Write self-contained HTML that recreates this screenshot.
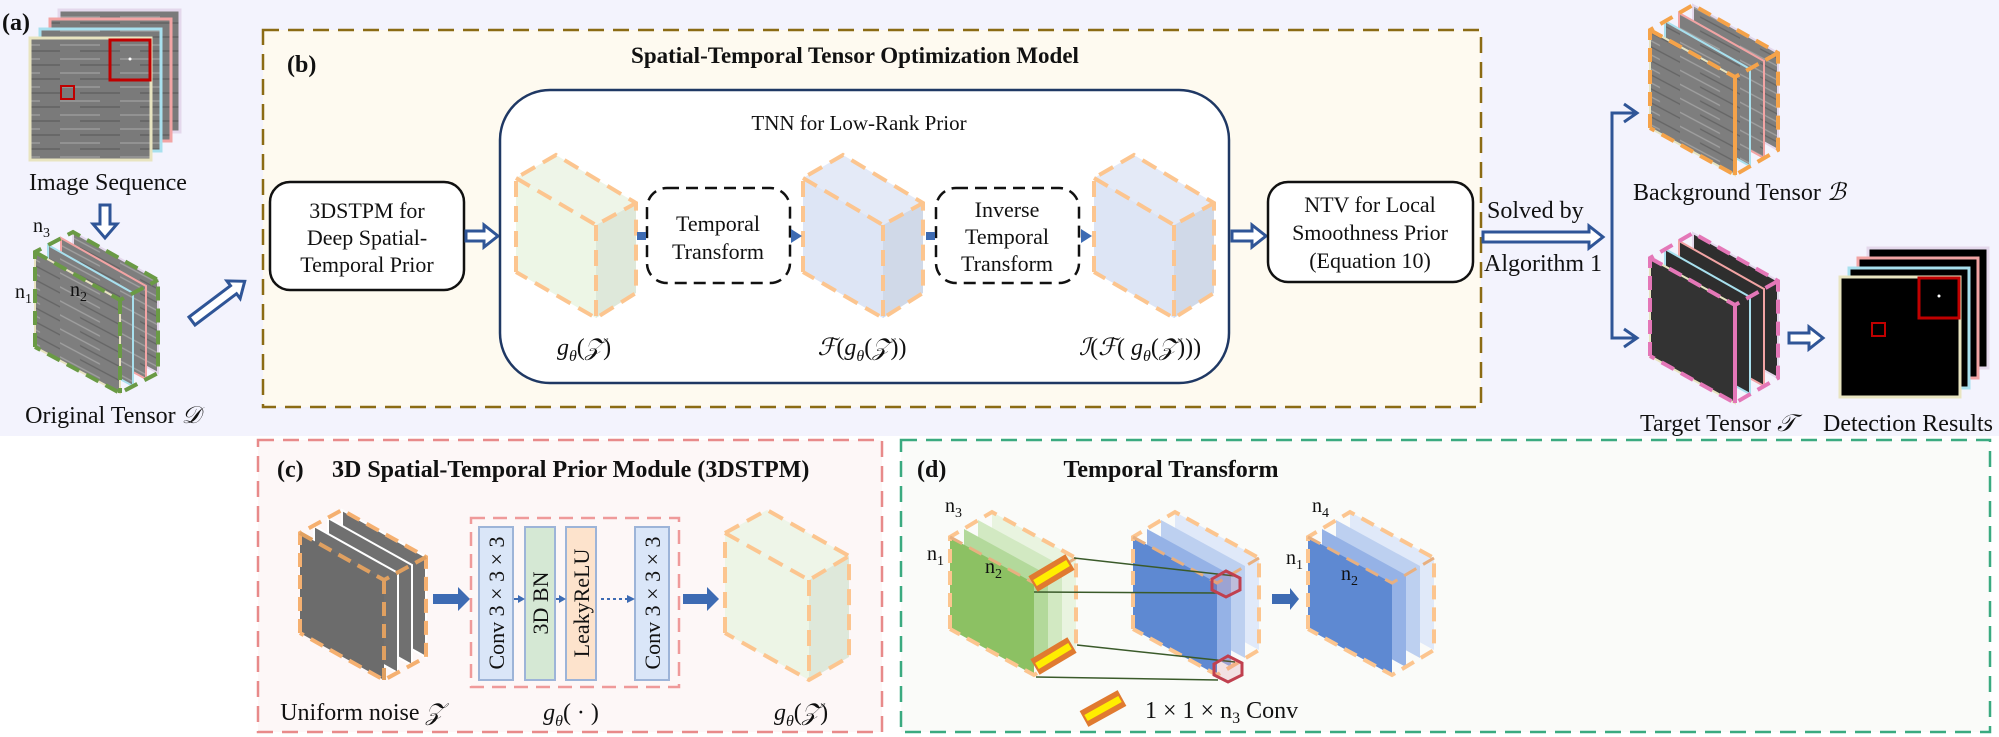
<!DOCTYPE html>
<html><head><meta charset="utf-8"><style>
html,body{margin:0;padding:0;background:#fff;}
svg{display:block;font-family:"Liberation Serif",serif;}
</style></head><body>
<svg width="1999" height="737" viewBox="0 0 1999 737" xmlns="http://www.w3.org/2000/svg">
<defs>
<pattern id="st" width="60" height="14" patternUnits="userSpaceOnUse" patternTransform="skewY(28)">
<rect width="60" height="14" fill="#7e7e7e"/>
<line x1="0" y1="3" x2="40" y2="3" stroke="#a0a0a0" stroke-width="1.5"/>
<line x1="20" y1="9" x2="60" y2="9" stroke="#656565" stroke-width="1.5"/>
</pattern>
<pattern id="st2" width="60" height="14" patternUnits="userSpaceOnUse">
<rect width="60" height="14" fill="#7a7a7a"/>
<line x1="0" y1="3" x2="40" y2="3" stroke="#9a9a9a" stroke-width="1.5"/>
<line x1="20" y1="9" x2="60" y2="9" stroke="#626262" stroke-width="1.5"/>
</pattern>
</defs>
<!-- backgrounds -->
<rect x="0" y="0" width="1999" height="436" fill="#f3f3fd"/>
<rect x="0" y="436" width="1999" height="301" fill="#ffffff"/>

<!-- (a) image stack -->
<text x="2" y="30" font-size="24" font-weight="bold" fill="#111">(a)</text>
<rect x="59" y="10" width="121" height="122" fill="url(#st2)" stroke="#e4d8ec" stroke-width="3"/>
<rect x="50" y="19" width="121" height="122" fill="url(#st2)" stroke="#f2a4a4" stroke-width="3"/>
<rect x="40" y="29" width="121" height="122" fill="url(#st2)" stroke="#a8e0ee" stroke-width="3"/>
<rect x="30" y="38" width="121" height="122" fill="url(#st2)" stroke="#e8e4c0" stroke-width="3"/>
<rect x="110" y="40" width="40" height="40" fill="none" stroke="#c00000" stroke-width="3"/>
<rect x="61" y="86" width="13" height="13" fill="none" stroke="#c00000" stroke-width="2"/>
<circle cx="130" cy="59" r="1.5" fill="#fff"/>
<text x="108" y="190" font-size="24" text-anchor="middle" fill="#111">Image Sequence</text>
<polygon points="100,205 110,205 110,224 117,224 105,238 93,224 100,224" fill="#fff" stroke="#2f5597" stroke-width="3"/>

<!-- original tensor -->
<g>
<polygon points="73,232 158,280 158,373 73,327" fill="url(#st)" stroke="#e4d8ec" stroke-width="2"/>
<polygon points="61,238 146,286 146,379 61,333" fill="url(#st)" stroke="#f2a4a4" stroke-width="2"/>
<polygon points="48,245 133,293 133,386 48,340" fill="url(#st)" stroke="#a8e0ee" stroke-width="2"/>
<polygon points="35,252 120,300 120,393 35,347" fill="url(#st)" stroke="#e8e4c0" stroke-width="2"/>
<polyline points="35,347 35,252 73,232 158,280 158,373 120,393 35,347" fill="none" stroke="#6a9a45" stroke-width="4" stroke-dasharray="14 8"/>
<polyline points="35,252 120,300 158,280 M120,300" fill="none" stroke="#6a9a45" stroke-width="4" stroke-dasharray="14 8"/>
<line x1="120" y1="300" x2="120" y2="393" stroke="#6a9a45" stroke-width="4" stroke-dasharray="14 8"/>
</g>
<text x="33" y="232" font-size="20" fill="#111">n<tspan font-size="14" dy="5">3</tspan></text>
<text x="15" y="298" font-size="20" fill="#111">n<tspan font-size="14" dy="5">1</tspan></text>
<text x="70" y="296" font-size="20" fill="#111">n<tspan font-size="14" dy="5">2</tspan></text>
<text x="113" y="423" font-size="24" text-anchor="middle" fill="#111">Original Tensor <tspan font-style="italic">𝒟</tspan></text>
<g transform="translate(192,321) rotate(-37)">
<polygon points="0,-5 52,-5 52,-11 66,0 52,11 52,5 0,5" fill="#fff" stroke="#2f5597" stroke-width="3"/>
</g>

<!-- (b) box -->
<rect x="263" y="30" width="1218" height="377" fill="#fefaf0" stroke="#8b6b14" stroke-width="2.5" stroke-dasharray="16 9"/>
<text x="287" y="72" font-size="24" font-weight="bold" fill="#111">(b)</text>
<text x="855" y="63" font-size="23" font-weight="bold" text-anchor="middle" fill="#111">Spatial-Temporal Tensor Optimization Model</text>

<rect x="270" y="182" width="194" height="108" rx="20" fill="#fff" stroke="#111" stroke-width="2.5"/>
<text x="367" y="218" font-size="22" text-anchor="middle" fill="#111">3DSTPM for</text>
<text x="367" y="245" font-size="22" text-anchor="middle" fill="#111">Deep Spatial-</text>
<text x="367" y="272" font-size="22" text-anchor="middle" fill="#111">Temporal Prior</text>
<polygon points="466,231 484,231 484,225 498,236 484,247 484,241 466,241" fill="#fff" stroke="#2f5597" stroke-width="3"/>

<rect x="500" y="90" width="729" height="293" rx="50" fill="#fff" stroke="#1f3864" stroke-width="2.5"/>
<text x="859" y="130" font-size="21" text-anchor="middle" fill="#111">TNN for Low-Rank Prior</text>

<!-- cube 1 green -->
<g id="c1">
<polygon points="516,178 556,155 636,203 596,225" fill="#eef5e8"/>
<polygon points="516,178 596,225 596,318 516,272" fill="#edf6e6"/>
<polygon points="596,225 636,203 636,293 596,318" fill="#dee8da"/>
<polyline points="516,272 516,178 556,155 636,203 636,293 596,318 516,272" fill="none" stroke="#fcc58f" stroke-width="4" stroke-dasharray="16 9"/>
<polyline points="516,178 596,225 636,203" fill="none" stroke="#fcc58f" stroke-width="4" stroke-dasharray="16 9"/>
<line x1="596" y1="225" x2="596" y2="318" stroke="#fcc58f" stroke-width="4" stroke-dasharray="16 9"/>
</g>
<g transform="translate(287,0)">
<polygon points="516,178 556,155 636,203 596,225" fill="#e4eaf7"/>
<polygon points="516,178 596,225 596,318 516,272" fill="#dde5f5"/>
<polygon points="596,225 636,203 636,293 596,318" fill="#d0d9e8"/>
<polyline points="516,272 516,178 556,155 636,203 636,293 596,318 516,272" fill="none" stroke="#fcc58f" stroke-width="4" stroke-dasharray="16 9"/>
<polyline points="516,178 596,225 636,203" fill="none" stroke="#fcc58f" stroke-width="4" stroke-dasharray="16 9"/>
<line x1="596" y1="225" x2="596" y2="318" stroke="#fcc58f" stroke-width="4" stroke-dasharray="16 9"/>
</g>
<g transform="translate(578,0)">
<polygon points="516,178 556,155 636,203 596,225" fill="#e4eaf7"/>
<polygon points="516,178 596,225 596,318 516,272" fill="#dde5f5"/>
<polygon points="596,225 636,203 636,293 596,318" fill="#d0d9e8"/>
<polyline points="516,272 516,178 556,155 636,203 636,293 596,318 516,272" fill="none" stroke="#fcc58f" stroke-width="4" stroke-dasharray="16 9"/>
<polyline points="516,178 596,225 636,203" fill="none" stroke="#fcc58f" stroke-width="4" stroke-dasharray="16 9"/>
<line x1="596" y1="225" x2="596" y2="318" stroke="#fcc58f" stroke-width="4" stroke-dasharray="16 9"/>
</g>

<rect x="647" y="188" width="143" height="95" rx="20" fill="#fff" stroke="#111" stroke-width="2.5" stroke-dasharray="12 7"/>
<text x="718" y="231" font-size="22" text-anchor="middle" fill="#111">Temporal</text>
<text x="718" y="259" font-size="22" text-anchor="middle" fill="#111">Transform</text>
<rect x="936" y="188" width="143" height="95" rx="20" fill="#fff" stroke="#111" stroke-width="2.5" stroke-dasharray="12 7"/>
<text x="1007" y="217" font-size="22" text-anchor="middle" fill="#111">Inverse</text>
<text x="1007" y="244" font-size="22" text-anchor="middle" fill="#111">Temporal</text>
<text x="1007" y="271" font-size="22" text-anchor="middle" fill="#111">Transform</text>
<rect x="637" y="232" width="9" height="8" fill="#3d6bb3"/>
<polygon points="791,229 802,236 791,243" fill="#3d6bb3"/>
<rect x="926" y="232" width="9" height="8" fill="#3d6bb3"/>
<polygon points="1081,229 1092,236 1081,243" fill="#3d6bb3"/>

<text x="584" y="355" font-size="24" text-anchor="middle" fill="#111"><tspan font-style="italic">g</tspan><tspan font-size="16" dy="6" font-style="italic">θ</tspan><tspan dy="-6">(</tspan><tspan font-style="italic">𝒵</tspan>)</text>
<text x="862" y="355" font-size="24" text-anchor="middle" fill="#111"><tspan font-style="italic">ℱ</tspan>(<tspan font-style="italic">g</tspan><tspan font-size="16" dy="6" font-style="italic">θ</tspan><tspan dy="-6">(</tspan><tspan font-style="italic">𝒵</tspan>))</text>
<text x="1140" y="355" font-size="24" text-anchor="middle" fill="#111"><tspan font-style="italic">ℐ</tspan>(<tspan font-style="italic">ℱ</tspan>( <tspan font-style="italic">g</tspan><tspan font-size="16" dy="6" font-style="italic">θ</tspan><tspan dy="-6">(</tspan><tspan font-style="italic">𝒵</tspan>)))</text>

<polygon points="1232,231 1252,231 1252,225 1266,236 1252,247 1252,241 1232,241" fill="#fff" stroke="#2f5597" stroke-width="3"/>
<rect x="1268" y="182" width="205" height="100" rx="20" fill="#fff" stroke="#111" stroke-width="2.5"/>
<text x="1370" y="212" font-size="22" text-anchor="middle" fill="#111">NTV for Local</text>
<text x="1370" y="240" font-size="22" text-anchor="middle" fill="#111">Smoothness Prior</text>
<text x="1370" y="268" font-size="22" text-anchor="middle" fill="#111">(Equation 10)</text>

<!-- right side -->
<text x="1487" y="218" font-size="24" fill="#111">Solved by</text>
<text x="1484" y="271" font-size="24" fill="#111">Algorithm 1</text>
<polygon points="1483,232 1589,232 1589,226 1603,237 1589,248 1589,242 1483,242" fill="#fff" stroke="#2f5597" stroke-width="3"/>
<polyline points="1637,113 1612,113 1612,338 1637,338" fill="none" stroke="#2f5597" stroke-width="3"/>
<polyline points="1624,104 1637,113 1624,122" fill="none" stroke="#2f5597" stroke-width="3"/>
<polyline points="1624,329 1637,338 1624,347" fill="none" stroke="#2f5597" stroke-width="3"/>

<!-- background tensor -->
<g>
<polygon points="1693,5 1778,53 1778,150 1693,103" fill="url(#st)" stroke="#e4d8ec" stroke-width="2"/>
<polygon points="1679,13 1764,61 1764,158 1679,111" fill="url(#st)" stroke="#f2a4a4" stroke-width="2"/>
<polygon points="1665,21 1750,69 1750,166 1665,119" fill="url(#st)" stroke="#a8e0ee" stroke-width="2"/>
<polygon points="1650,30 1735,77 1735,175 1650,128" fill="url(#st)" stroke="#e8e4c0" stroke-width="2"/>
<polyline points="1650,128 1650,30 1693,5 1778,53 1778,150 1735,175 1650,128" fill="none" stroke="#f5a34a" stroke-width="4" stroke-dasharray="14 8"/>
<polyline points="1650,30 1735,77 1778,53" fill="none" stroke="#f5a34a" stroke-width="4" stroke-dasharray="14 8"/>
<line x1="1735" y1="77" x2="1735" y2="175" stroke="#f5a34a" stroke-width="4"/>
</g>
<text x="1633" y="200" font-size="24" fill="#111">Background Tensor <tspan font-style="italic">ℬ</tspan></text>
<!-- target tensor -->
<g transform="translate(0,228)">
<polygon points="1693,5 1778,53 1778,150 1693,103" fill="#2e2e2e" stroke="#e4d8ec" stroke-width="2"/>
<polygon points="1679,13 1764,61 1764,158 1679,111" fill="#2e2e2e" stroke="#f2a4a4" stroke-width="2"/>
<polygon points="1665,21 1750,69 1750,166 1665,119" fill="#2e2e2e" stroke="#a8e0ee" stroke-width="2"/>
<polygon points="1650,30 1735,77 1735,175 1650,128" fill="#333" stroke="#e8e4c0" stroke-width="2"/>
<polyline points="1650,128 1650,30 1693,5 1778,53 1778,150 1735,175 1650,128" fill="none" stroke="#e477b8" stroke-width="4" stroke-dasharray="14 8"/>
<polyline points="1650,30 1735,77 1778,53" fill="none" stroke="#e477b8" stroke-width="4" stroke-dasharray="14 8"/>
<line x1="1735" y1="77" x2="1735" y2="175" stroke="#e477b8" stroke-width="4"/>
</g>
<text x="1640" y="431" font-size="24" fill="#111">Target Tensor <tspan font-style="italic">𝒯</tspan></text>
<polygon points="1789,333 1809,333 1809,327 1823,338 1809,349 1809,343 1789,343" fill="#fff" stroke="#2f5597" stroke-width="3"/>
<!-- detection -->
<rect x="1868" y="248" width="120" height="120" fill="#000" stroke="#e4d8ec" stroke-width="3"/>
<rect x="1858" y="258" width="120" height="120" fill="#000" stroke="#f2a4a4" stroke-width="3"/>
<rect x="1849" y="268" width="120" height="120" fill="#000" stroke="#a8e0ee" stroke-width="3"/>
<rect x="1840" y="277" width="120" height="120" fill="#000" stroke="#e8e4c0" stroke-width="3"/>
<rect x="1919" y="278" width="40" height="40" fill="none" stroke="#c00000" stroke-width="3"/>
<rect x="1872" y="323" width="13" height="13" fill="none" stroke="#c00000" stroke-width="2"/>
<circle cx="1939" cy="296" r="1.5" fill="#fff"/>
<text x="1823" y="431" font-size="24" fill="#111">Detection Results</text>

<!-- (c) -->
<rect x="258" y="440" width="624" height="292" fill="#fdf7f7" stroke="#e88a8a" stroke-width="2.5" stroke-dasharray="16 9"/>
<text x="277" y="477" font-size="24" font-weight="bold" fill="#111">(c)</text>
<text x="332" y="477" font-size="24" font-weight="bold" fill="#111">3D Spatial-Temporal Prior Module  (3DSTPM)</text>
<g>
<polygon points="342,510 426,557 426,657 342,610" fill="#707070" stroke="#fff" stroke-width="2"/>
<polygon points="328,518 412,565 412,665 328,618" fill="#707070" stroke="#fff" stroke-width="2"/>
<polygon points="314,526 398,573 398,673 314,626" fill="#707070" stroke="#fff" stroke-width="2"/>
<polygon points="300,533 384,580 384,680 300,633" fill="#6c6c6c"/>
<polyline points="300,633 300,533 342,510 426,557 426,657 384,680 300,633" fill="none" stroke="#f5b070" stroke-width="4" stroke-dasharray="14 8"/>
<polyline points="300,533 384,580 426,557" fill="none" stroke="#e0a060" stroke-width="4" stroke-dasharray="14 8"/>
<line x1="384" y1="580" x2="384" y2="680" stroke="#e0a060" stroke-width="4" stroke-dasharray="14 8"/>
</g>
<polygon points="433,594 458,594 458,587 470,599 458,611 458,604 433,604" fill="#3d6bb3"/>
<rect x="471" y="518" width="208" height="169" fill="none" stroke="#ef9a9a" stroke-width="2.5" stroke-dasharray="14 8"/>
<rect x="479" y="527" width="34" height="153" fill="#dae6f8" stroke="#9db4d8" stroke-width="2"/>
<rect x="525" y="527" width="30" height="153" fill="#d5e8d4" stroke="#9db4d8" stroke-width="2"/>
<rect x="566" y="527" width="30" height="153" fill="#fde3cc" stroke="#9db4d8" stroke-width="2"/>
<rect x="635" y="527" width="34" height="153" fill="#dae6f8" stroke="#9db4d8" stroke-width="2"/>
<text transform="translate(504,603) rotate(-90)" font-size="22" text-anchor="middle" fill="#111">Conv 3 × 3 × 3</text>
<text transform="translate(548,603) rotate(-90)" font-size="22" text-anchor="middle" fill="#111">3D BN</text>
<text transform="translate(589,603) rotate(-90)" font-size="22" text-anchor="middle" fill="#111">LeakyReLU</text>
<text transform="translate(660,603) rotate(-90)" font-size="22" text-anchor="middle" fill="#111">Conv 3 × 3 × 3</text>
<line x1="514" y1="599" x2="519" y2="599" stroke="#3d6bb3" stroke-width="2"/><polygon points="518,595 525,599 518,603" fill="#3d6bb3"/>
<line x1="556" y1="599" x2="560" y2="599" stroke="#3d6bb3" stroke-width="2"/><polygon points="559,595 566,599 559,603" fill="#3d6bb3"/>
<line x1="601" y1="599" x2="627" y2="599" stroke="#3d6bb3" stroke-width="2" stroke-dasharray="3 3"/><polygon points="627,595 635,599 627,603" fill="#3d6bb3"/>
<polygon points="683,594 707,594 707,587 719,599 707,611 707,604 683,604" fill="#3d6bb3"/>
<g>
<polygon points="725,533 767,510 849,556 809,580" fill="#eef5e8"/>
<polygon points="725,533 809,580 809,680 725,633" fill="#edf5e6"/>
<polygon points="809,580 849,556 849,657 809,680" fill="#dee8da"/>
<polyline points="725,633 725,533 767,510 849,556 849,657 809,680 725,633" fill="none" stroke="#fcc58f" stroke-width="4" stroke-dasharray="16 9"/>
<polyline points="725,533 809,580 849,556" fill="none" stroke="#fcc58f" stroke-width="4" stroke-dasharray="16 9"/>
<line x1="809" y1="580" x2="809" y2="680" stroke="#fcc58f" stroke-width="4" stroke-dasharray="16 9"/>
</g>
<text x="362" y="720" font-size="24" text-anchor="middle" fill="#111">Uniform noise <tspan font-style="italic">𝒵</tspan></text>
<text x="571" y="720" font-size="24" text-anchor="middle" fill="#111"><tspan font-style="italic">g</tspan><tspan font-size="16" dy="6" font-style="italic">θ</tspan><tspan dy="-6">( · )</tspan></text>
<text x="801" y="720" font-size="24" text-anchor="middle" fill="#111"><tspan font-style="italic">g</tspan><tspan font-size="16" dy="6" font-style="italic">θ</tspan><tspan dy="-6">(</tspan><tspan font-style="italic">𝒵</tspan>)</text>

<!-- (d) -->
<rect x="901" y="440" width="1089" height="292" fill="#fafbf9" stroke="#3aaa80" stroke-width="2.5" stroke-dasharray="16 9"/>
<text x="917" y="477" font-size="24" font-weight="bold" fill="#111">(d)</text>
<text x="1171" y="477" font-size="24" font-weight="bold" text-anchor="middle" fill="#111">Temporal Transform</text>

<!-- green cube -->
<g>
<polygon points="992,512 1076,558 1076,650 992,604" fill="#e9f4e0"/>
<polygon points="978,520 1062,566 1062,658 978,612" fill="#d2e9c2"/>
<polygon points="964,529 1048,575 1048,667 964,621" fill="#b3d99b"/>
<polygon points="950,537 1034,583 1034,675 950,629" fill="#8cc163"/>
<polyline points="950,629 950,537 992,512 1076,558 1076,650 1034,675 950,629" fill="none" stroke="#fcc58f" stroke-width="4" stroke-dasharray="14 8"/>
<polyline points="950,537 1034,583 1076,558" fill="none" stroke="#e8b080" stroke-width="3" stroke-dasharray="14 8"/>
</g>
<g transform="translate(183,0)">
<polygon points="992,512 1076,558 1076,650 992,604" fill="#e0e9f9"/>
<polygon points="978,520 1062,566 1062,658 978,612" fill="#bdd0f0"/>
<polygon points="964,529 1048,575 1048,667 964,621" fill="#95b2e6"/>
<polygon points="950,537 1034,583 1034,675 950,629" fill="#5e89d2"/>
<polyline points="950,629 950,537 992,512 1076,558 1076,650 1034,675 950,629" fill="none" stroke="#fcc58f" stroke-width="4" stroke-dasharray="14 8"/>
<polyline points="950,537 1034,583 1076,558" fill="none" stroke="#e8b080" stroke-width="3" stroke-dasharray="14 8"/>
</g>
<g transform="translate(358,0)">
<polygon points="992,512 1076,558 1076,650 992,604" fill="#e0e9f9"/>
<polygon points="978,520 1062,566 1062,658 978,612" fill="#bdd0f0"/>
<polygon points="964,529 1048,575 1048,667 964,621" fill="#95b2e6"/>
<polygon points="950,537 1034,583 1034,675 950,629" fill="#5e89d2"/>
<polyline points="950,629 950,537 992,512 1076,558 1076,650 1034,675 950,629" fill="none" stroke="#fcc58f" stroke-width="4" stroke-dasharray="14 8"/>
<polyline points="950,537 1034,583 1076,558" fill="none" stroke="#e8b080" stroke-width="3" stroke-dasharray="14 8"/>
</g>
<!-- lines -->
<line x1="1074" y1="558" x2="1235" y2="576" stroke="#3a5a2a" stroke-width="1.5"/>
<line x1="1034" y1="592" x2="1217" y2="593" stroke="#3a5a2a" stroke-width="1.5"/>
<line x1="1077" y1="645" x2="1235" y2="662" stroke="#3a5a2a" stroke-width="1.5"/>
<line x1="1036" y1="677" x2="1218" y2="680" stroke="#3a5a2a" stroke-width="1.5"/>
<!-- yellow bars -->
<line x1="1033" y1="584" x2="1070" y2="562" stroke="#e07a30" stroke-width="18"/>
<line x1="1035" y1="583" x2="1068" y2="563" stroke="#ffee00" stroke-width="7"/>
<line x1="1035" y1="667" x2="1072" y2="645" stroke="#e07a30" stroke-width="18"/>
<line x1="1037" y1="666" x2="1070" y2="646" stroke="#ffee00" stroke-width="7"/>
<line x1="1084" y1="719" x2="1122" y2="698" stroke="#e07a30" stroke-width="18"/>
<line x1="1086" y1="718" x2="1120" y2="699" stroke="#ffee00" stroke-width="7"/>
<!-- red small cubes -->
<polygon points="1212,579 1226,571 1240,578 1240,590 1226,597 1212,590" fill="rgba(200,80,100,0.15)" stroke="#c0404f" stroke-width="3"/>
<polygon points="1214,664 1228,656 1242,663 1242,675 1228,682 1214,675" fill="rgba(200,80,100,0.15)" stroke="#c0404f" stroke-width="3"/>
<polygon points="1272,594 1290,594 1290,588 1299,599 1290,610 1290,604 1272,604" fill="#3d6bb3"/>
<text x="945" y="512" font-size="20" fill="#111">n<tspan font-size="14" dy="5">3</tspan></text>
<text x="927" y="560" font-size="20" fill="#111">n<tspan font-size="14" dy="5">1</tspan></text>
<text x="985" y="573" font-size="20" fill="#111">n<tspan font-size="14" dy="5">2</tspan></text>
<text x="1312" y="512" font-size="20" fill="#111">n<tspan font-size="14" dy="5">4</tspan></text>
<text x="1286" y="564" font-size="20" fill="#111">n<tspan font-size="14" dy="5">1</tspan></text>
<text x="1341" y="580" font-size="20" fill="#111">n<tspan font-size="14" dy="5">2</tspan></text>
<text x="1145" y="718" font-size="24" fill="#111">1 × 1 × n<tspan font-size="16" dy="5">3</tspan><tspan dy="-5"> Conv</tspan></text>
</svg>
</body></html>
